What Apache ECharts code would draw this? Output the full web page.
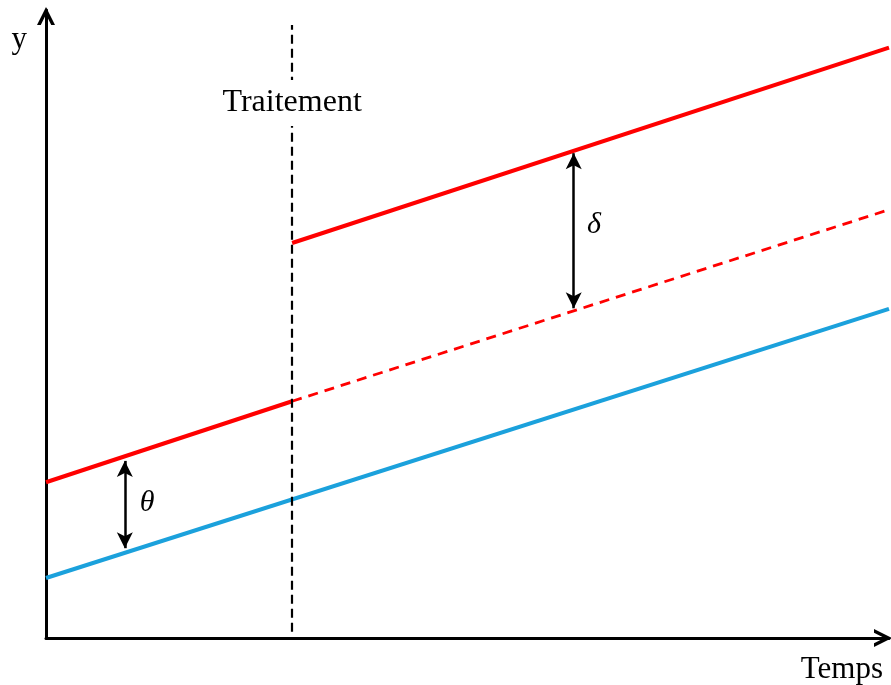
<!DOCTYPE html>
<html>
<head>
<meta charset="utf-8">
<script src="https://cdn.jsdelivr.net/npm/echarts@6/dist/echarts.min.js"></script>
<style>html,body{margin:0;padding:0;background:#fff}#c{width:891px;height:685px}</style>
</head>
<body>
<div id="c"></div>
<script>
// ---- data (x: time, y: outcome) ----
const treatmentTime = 29.2;
const treatedPre = [[0, 24.8], [29.2, 37.7]];
const treatedPost = [[29.2, 62.9], [100, 94.0]];
const treatedCounterfactual = [[29.2, 37.7], [100, 68.2]];
const control = [[0, 9.55], [100, 52.4]];
const thetaArrow = [[9.35, 28.2], [9.35, 14.3]];
const deltaArrow = [[62.6, 77.2], [62.6, 52.5]];
const thetaLabelPos = [12.0, 21.5];
const deltaLabelPos = [65.0, 65.8];
const treatmentLabelPos = [29.2, 85.2];
const treatmentLineRange = [1.0, 97.6];
const labels = { x: 'Temps', y: 'y', treatment: 'Traitement', theta: 'θ', delta: 'δ' };

const serif = '"Liberation Serif", "DejaVu Serif", serif';
const chevron = 'path://M0,10 L5,0 L10,10 L7.9,10 L5,4.2 L2.1,10 Z';

const chart = echarts.init(document.getElementById('c'), null, { renderer: 'canvas' });
const option = {
  animation: false,
  backgroundColor: '#fff',
  grid: { left: 46, right: 2, top: 10, bottom: 47, containLabel: false },
  xAxis: {
    type: 'value', min: 0, max: 100,
    name: labels.x, nameLocation: 'end', nameGap: 0,
    nameTextStyle: { fontFamily: serif, fontSize: 31, color: '#000', align: 'right', verticalAlign: 'top', padding: [16, 6, 0, 0] },
    axisLine: { show: true, symbol: ['none', chevron], symbolSize: [22, 18], symbolOffset: [0, -6], lineStyle: { color: '#000', width: 3 } },
    axisTick: { show: false }, axisLabel: { show: false }, splitLine: { show: false }
  },
  yAxis: {
    type: 'value', min: 0, max: 100,
    name: labels.y, nameLocation: 'end', nameGap: -30,
    nameTextStyle: { fontFamily: serif, fontSize: 31, color: '#000', align: 'right', verticalAlign: 'middle', padding: [0, 19, 0, 0] },
    axisLine: { show: true, symbol: ['none', chevron], symbolSize: [22, 18], symbolOffset: [0, -6], lineStyle: { color: '#000', width: 3 } },
    axisTick: { show: false }, axisLabel: { show: false }, splitLine: { show: false }
  },
  series: [
    {
      type: 'line', data: control, symbol: 'none',
      lineStyle: { color: '#1BA1DC', width: 4 }, z: 3,
      markLine: {
        silent: true, symbol: 'none', label: { show: false },
        lineStyle: { color: '#000', width: 2.2, type: [9, 5] },
        data: [[{ coord: [treatmentTime, treatmentLineRange[0]] }, { coord: [treatmentTime, treatmentLineRange[1]] }]]
      },
      markPoint: {
        silent: true, symbol: 'circle', symbolSize: 0,
        data: [{
          coord: treatmentLabelPos,
          label: { show: true, formatter: labels.treatment, fontFamily: serif, fontSize: 32, color: '#000', backgroundColor: '#fff', padding: [8, 4, 6, 4] }
        }]
      }
    },
    {
      type: 'line', data: treatedCounterfactual, symbol: 'none',
      lineStyle: { color: '#FF0000', width: 2.8, type: [10, 7] }, z: 3
    },
    {
      type: 'line', data: treatedPre, symbol: 'none',
      lineStyle: { color: '#FF0000', width: 4 }, z: 4,
      markLine: {
        silent: true, symbol: ['arrow', 'arrow'], symbolSize: [12, 16], label: { show: false },
        lineStyle: { color: '#000', width: 2.5, type: 'solid' },
        data: [[{ coord: thetaArrow[0] }, { coord: thetaArrow[1] }]]
      },
      markPoint: {
        silent: true, symbol: 'circle', symbolSize: 0,
        data: [{ coord: thetaLabelPos, label: { show: true, formatter: labels.theta, fontFamily: serif, fontStyle: 'italic', fontSize: 30, color: '#000' } }]
      }
    },
    {
      type: 'line', data: treatedPost, symbol: 'none',
      lineStyle: { color: '#FF0000', width: 4 }, z: 4,
      markLine: {
        silent: true, symbol: ['arrow', 'arrow'], symbolSize: [12, 16], label: { show: false },
        lineStyle: { color: '#000', width: 2.5, type: 'solid' },
        data: [[{ coord: deltaArrow[0] }, { coord: deltaArrow[1] }]]
      },
      markPoint: {
        silent: true, symbol: 'circle', symbolSize: 0,
        data: [{ coord: deltaLabelPos, label: { show: true, formatter: labels.delta, fontFamily: serif, fontStyle: 'italic', fontSize: 30, color: '#000' } }]
      }
    }
  ]
};
chart.setOption(option);
</script>
</body>
</html>
